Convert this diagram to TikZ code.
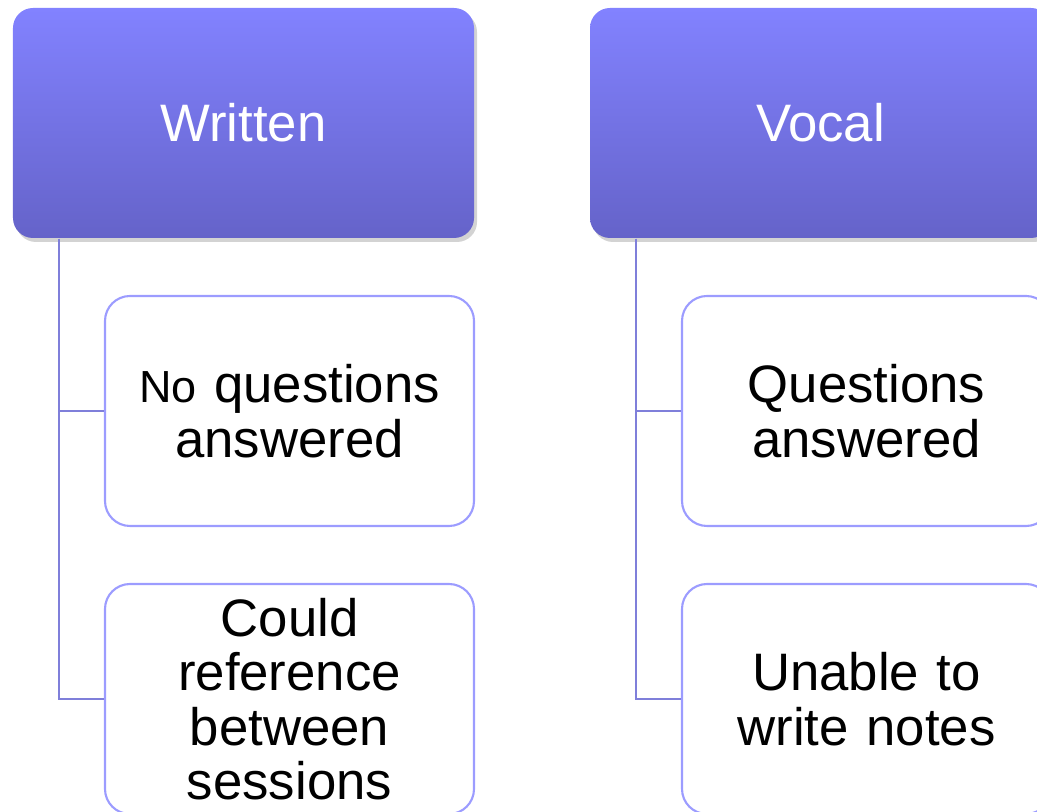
\documentclass[tikz,border=0pt]{standalone}
\usepackage{fontspec}
\setmainfont{Liberation Sans}
\definecolor{hdTop}{HTML}{8282FF}
\definecolor{hdBot}{HTML}{6563C9}
\definecolor{boxLine}{HTML}{9C9CFF}
\definecolor{linkLine}{HTML}{7F7FDA}
\usetikzlibrary{calc,positioning,shadows}

\begin{document}
\begin{tikzpicture}[
    header/.style={rounded corners=0.2cm, top color=hdTop, bottom color=hdBot,
      minimum width=4.61cm, minimum height=2.30cm, text=white,
      font=\fontsize{15}{15.5}\selectfont,
      drop shadow={shadow xshift=0.03cm, shadow yshift=-0.04cm, opacity=0.35}},
    item/.style={draw=boxLine, line width=0.6pt, rounded corners=0.25cm, fill=white,
      minimum width=3.69cm, minimum height=2.30cm, text width=3.3cm, align=center,
      font=\fontsize{15}{15.5}\selectfont},
    link/.style={draw=linkLine, line width=0.6pt}
  ]
  \useasboundingbox (0,0) rectangle (10.37,8.12);
  \clip (0,0) rectangle (10.37,8.12);

  % headers
  \node[header] (written) at (2.435,6.89) {Written};
  \node[header] (vocal) at (8.205,6.89) {Vocal};

  % items under Written
  \node[item] (noq) at (2.895,4.01) {{\fontsize{12.8}{15.5}\selectfont No} questions answered};
  \node[item] (could) at (2.895,1.13) {Could reference between sessions};

  % items under Vocal
  \node[item] (qans) at (8.665,4.01) {Questions answered};
  \node[item] (unable) at (8.665,1.13) {Unable to write notes};

  % links
  \coordinate (wroot) at ($(written.south west)+(0.47,0)$);
  \coordinate (vroot) at ($(vocal.south west)+(0.47,0)$);
  \draw[link] (wroot) |- (noq.west);
  \draw[link] (wroot) |- (could.west);
  \draw[link] (vroot) |- (qans.west);
  \draw[link] (vroot) |- (unable.west);
\end{tikzpicture}
\end{document}
